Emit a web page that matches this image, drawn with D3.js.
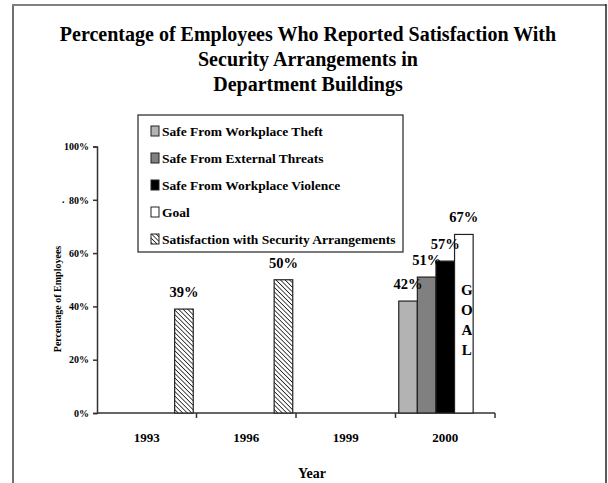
<!DOCTYPE html>
<html>
<head>
<meta charset="utf-8">
<script src="https://cdn.jsdelivr.net/npm/d3@7"></script>
<style>
  html, body { margin: 0; padding: 0; background: #fff; }
  svg { display: block; }
  text { font-family: "Liberation Serif", "Times New Roman", Times, serif; font-weight: bold; fill: #000; }
</style>
</head>
<body>
<svg id="chart" width="608" height="483"></svg>
<script>
// ---- data ----
const years = ["1993", "1996", "1999", "2000"];
const seriesNames = [
  "Safe From Workplace Theft",
  "Safe From External Threats",
  "Safe From Workplace Violence",
  "Goal",
  "Satisfaction with Security Arrangements"
];
const theftValues = [null, null, null, 42];
const externalValues = [null, null, null, 51];
const violenceValues = [null, null, null, 57];
const goalValues = [null, null, null, 67];
const satisfactionValues = [39, 50, null, null];
const yTicks = [0, 20, 40, 60, 80, 100];
const titleLines = [
  "Percentage of Employees Who Reported Satisfaction With",
  "Security Arrangements in",
  "Department Buildings"
];
const goalLetters = ["G", "O", "A", "L"];

const seriesValues = [theftValues, externalValues, violenceValues, goalValues, satisfactionValues];
const seriesFill = ["#b3b3b3", "#808080", "#000000", "#ffffff", "url(#hatch)"];

const svg = d3.select("#chart");

// hatch pattern ("\" diagonals)
const defs = svg.append("defs");
const pat = defs.append("pattern")
  .attr("id", "hatch").attr("patternUnits", "userSpaceOnUse")
  .attr("width", 3.2).attr("height", 3.2)
  .attr("patternTransform", "rotate(-45)");
pat.append("rect").attr("width", 3.2).attr("height", 3.2).attr("fill", "#fff");
pat.append("line").attr("x1", 0).attr("y1", 0).attr("x2", 0).attr("y2", 3.2)
  .attr("stroke", "#000").attr("stroke-width", 1.4);

// outer frame
svg.append("line").attr("x1", 13).attr("y1", 5).attr("x2", 13).attr("y2", 483).attr("stroke", "#707070").attr("stroke-width", 2);
svg.append("line").attr("x1", 12).attr("y1", 5).attr("x2", 606).attr("y2", 5).attr("stroke", "#808080").attr("stroke-width", 2);
svg.append("line").attr("x1", 606).attr("y1", 4).attr("x2", 606).attr("y2", 483).attr("stroke", "#222").attr("stroke-width", 1.5);

// title
svg.append("g").selectAll("text").data(titleLines).join("text")
  .attr("x", 308).attr("y", (d, i) => 41 + i * 25)
  .attr("text-anchor", "middle").style("font-size", "20px")
  .text(d => d);

// scales
const x0 = d3.scaleBand().domain(years).range([97, 495]).padding(0);
const x1 = d3.scaleBand().domain(d3.range(seriesNames.length)).range([0, x0.bandwidth()]).paddingInner(0).paddingOuter(0.175);
const y = d3.scaleLinear().domain([0, 100]).range([413, 146.5]);

// axes
const yAxis = d3.axisLeft(y).tickValues(yTicks).tickFormat(d => d + "%").tickSize(4).tickPadding(4);
const gy = svg.append("g").attr("transform", "translate(97,0)").call(yAxis);
gy.attr("font-family", null);
gy.select(".domain").attr("stroke", "#333").attr("stroke-width", 1.5);
gy.selectAll(".tick line").attr("stroke", "#333").attr("stroke-width", 1.5);
gy.selectAll(".tick text").style("font-size", "10px").attr("fill", "#000");

// small stray dot near 80%
svg.append("text").attr("x", 62).attr("y", y(80) + 3).style("font-size", "10px").text(".");

// x axis: ticks at category boundaries
const gx = svg.append("g").attr("transform", "translate(0,413)");
gx.append("line").attr("x1", 97).attr("x2", 495).attr("stroke", "#333").attr("stroke-width", 1.5);
const boundaries = years.map(d => x0(d) + x0.bandwidth());
gx.selectAll("line.tk").data(boundaries).join("line").attr("class", "tk")
  .attr("x1", d => d).attr("x2", d => d).attr("y1", 0).attr("y2", 5)
  .attr("stroke", "#333").attr("stroke-width", 1.5);
gx.selectAll("text").data(years).join("text")
  .attr("x", d => x0(d) + x0.bandwidth() / 2).attr("y", 29)
  .attr("text-anchor", "middle").style("font-size", "13px").text(d => d);

// axis titles
svg.append("text").attr("x", 312).attr("y", 478).attr("text-anchor", "middle").style("font-size", "14px").text("Year");
svg.append("text").attr("transform", "translate(61,299) rotate(-90)").attr("text-anchor", "middle").style("font-size", "10px").text("Percentage of Employees");

// bars
const barData = [];
seriesValues.forEach((vals, si) => {
  vals.forEach((v, yi) => {
    if (v !== null) barData.push({ si, year: years[yi], v });
  });
});
const gb = svg.append("g");
gb.selectAll("rect").data(barData).join("rect")
  .attr("x", d => x0(d.year) + x1(d.si))
  .attr("y", d => y(d.v))
  .attr("width", x1.bandwidth())
  .attr("height", d => y(0) - y(d.v))
  .attr("fill", d => seriesFill[d.si])
  .attr("stroke", "#222").attr("stroke-width", 1.2);

// value labels
gb.selectAll("text.val").data(barData).join("text").attr("class", "val")
  .attr("x", d => x0(d.year) + x1(d.si) + x1.bandwidth() / 2)
  .attr("y", d => y(d.v) - 12)
  .attr("text-anchor", "middle").style("font-size", "14.5px")
  .text(d => d.v + "%");

// GOAL letters inside goal bar
const goalIdx = goalValues.findIndex(v => v !== null);
const gxc = x0(years[goalIdx]) + x1(3) + x1.bandwidth() / 2 + 3;
svg.append("g").selectAll("text").data(goalLetters).join("text")
  .attr("x", gxc).attr("y", (d, i) => 295 + i * 20)
  .attr("text-anchor", "middle").style("font-size", "15px").text(d => d);

// legend
const lg = svg.append("g");
lg.append("rect").attr("x", 138).attr("y", 115).attr("width", 265).attr("height", 137)
  .attr("fill", "#fff").attr("stroke", "#222").attr("stroke-width", 1.2);
const items = lg.selectAll("g.item").data(seriesNames).join("g").attr("class", "item")
  .attr("transform", (d, i) => `translate(151,${126 + i * 27})`);
items.append("rect").attr("width", 8).attr("height", 10)
  .attr("fill", (d, i) => seriesFill[i]).attr("stroke", "#222").attr("stroke-width", 1);
items.append("text").attr("x", 11).attr("y", 9.5).style("font-size", "13.5px").text(d => d);
</script>
</body>
</html>
